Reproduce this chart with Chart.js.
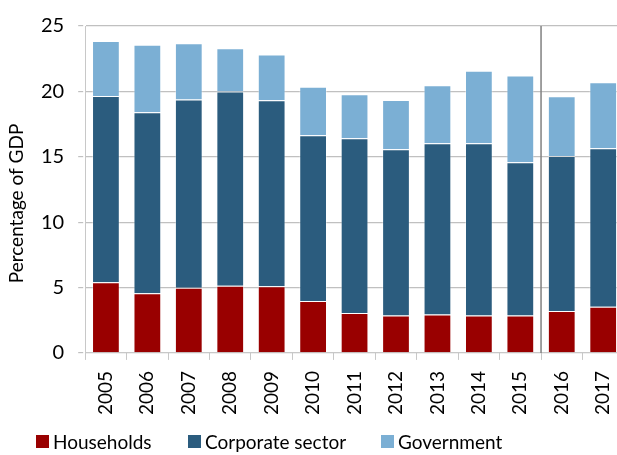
<!DOCTYPE html>
<html>
<head>
<meta charset="utf-8">
<script src="https://cdn.jsdelivr.net/npm/chart.js@4/dist/chart.umd.min.js"></script>
<style>
  html, body { margin: 0; padding: 0; background: #fff; overflow: hidden; }
  #wrap { position: relative; width: 637px; height: 455px; }
  #legend { position: absolute; left: 0; top: 430px; width: 617px; height: 24px;
            font: 19px Lato, "Open Sans", sans-serif; color: #000; }
  .item { position: absolute; top: 0; display: flex; align-items: center; white-space: nowrap; }
  .box { width: 13px; height: 13px; margin-right: 4px; }
</style>
</head>
<body>
<div id="wrap">
  <canvas id="debtChart"></canvas>
  <div id="legend"></div>
</div>
<script>
const years = ["2005", "2006", "2007", "2008", "2009", "2010", "2011", "2012", "2013", "2014", "2015", "2016", "2017"];
const households = [5.4, 4.57, 4.98, 5.13, 5.1, 3.97, 3.06, 2.87, 2.94, 2.87, 2.87, 3.21, 3.54];
const corporate = [14.25, 13.83, 14.4, 14.87, 14.23, 12.67, 13.35, 12.71, 13.09, 13.16, 11.71, 11.84, 12.12];
const government = [4.2, 5.17, 4.3, 3.3, 3.49, 3.72, 3.37, 3.77, 4.43, 5.54, 6.63, 4.58, 5.03];
const yTicks = [0, 5, 10, 15, 20, 25];
const seriesNames = ["Households", "Corporate sector", "Government"];
const seriesColors = ["#990000", "#2B5C7E", "#7BAFD4"];
const yTitle = "Percentage of GDP";

const FONT = "Lato, 'Open Sans', sans-serif";

// vertical separator between 2015 and 2016, plus the y axis title
const extras = {
  id: "extras",
  afterDatasetsDraw(chart) {
    const x = chart.scales.x;
    const y = chart.scales.y;
    const px = (x.getPixelForValue(10) + x.getPixelForValue(11)) / 2;
    const c = chart.ctx;
    c.save();
    c.strokeStyle = "#808080";
    c.lineWidth = 1.5;
    c.beginPath();
    c.moveTo(px, y.getPixelForValue(25));
    c.lineTo(px, y.getPixelForValue(0));
    c.stroke();
    c.restore();

    // title sits a bit below the plot centre, as in the original
    c.save();
    c.translate(17, (y.top + y.bottom) / 2 + 14);
    c.rotate(-Math.PI / 2);
    c.fillStyle = "#000";
    c.font = "19px " + FONT;
    c.textAlign = "center";
    c.textBaseline = "middle";
    c.fillText(yTitle, 0, 0);
    c.restore();
  },
};

function makeSet(i, data) {
  return {
    label: seriesNames[i],
    data: data,
    backgroundColor: seriesColors[i],
    borderColor: "rgba(255,255,255,0.35)",
    borderWidth: 1,
    categoryPercentage: 1,
    barPercentage: 0.67,
  };
}

const ctx = document.getElementById("debtChart");

new Chart(ctx, {
  type: "bar",
  data: {
    labels: years,
    datasets: [makeSet(0, households), makeSet(1, corporate), makeSet(2, government)],
  },
  options: {
    responsive: true,
    maintainAspectRatio: false,
    animation: false,
    layout: { padding: { top: 9, left: 27, right: 0, bottom: 29 } },
    plugins: {
      tooltip: { enabled: false },
      legend: { display: false },
    },
    scales: {
      x: {
        stacked: true,
        offset: true,
        grid: {
          display: true,
          offset: true,
          drawOnChartArea: false,
          drawTicks: true,
          tickLength: 7,
          color: "#c8c8c8",
        },
        border: { display: true, color: "#c8c8c8", width: 1 },
        ticks: {
          color: "#000",
          minRotation: 90,
          maxRotation: 90,
          padding: 11,
          font: { family: FONT, size: 19 },
        },
      },
      y: {
        stacked: true,
        min: 0,
        max: 25,
        afterBuildTicks(axis) {
          axis.ticks = yTicks.map((v) => ({ value: v }));
        },
        grid: {
          color: "#c0c0c0",
          lineWidth: 1.2,
          borderDash: [5, 3],
          tickLength: 7,
          tickBorderDash: [5, 3],
        },
        border: { display: true, color: "#c8c8c8", width: 1 },
        ticks: {
          color: "#000",
          padding: 14,
          font: { family: FONT, size: 20 },
        },
      },
    },
  },
  plugins: [extras],
});

// legend, laid out like the original (wide gaps between entries)
const legendLeft = [36, 188, 381];
const legend = document.getElementById("legend");
seriesNames.forEach((name, i) => {
  const item = document.createElement("div");
  item.className = "item";
  item.style.left = legendLeft[i] + "px";
  item.innerHTML = '<span class="box" style="background:' + seriesColors[i] + '"></span>' + name;
  legend.appendChild(item);
});
</script>
</body>
</html>
